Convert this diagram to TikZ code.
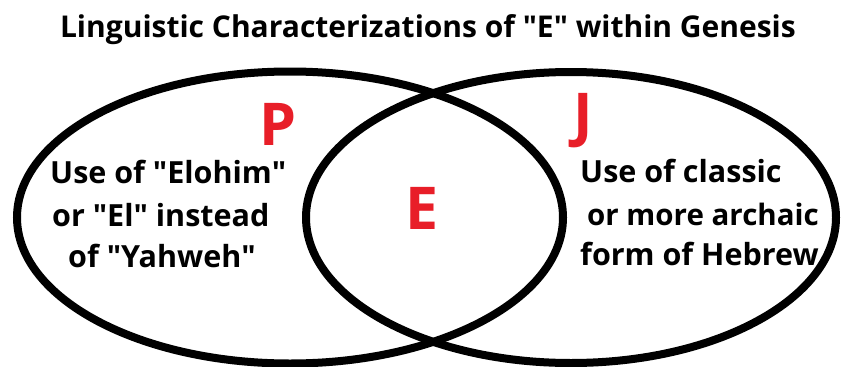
\documentclass[tikz,border=0pt]{standalone}
\usepackage{fontspec}
\setmainfont{Open Sans}
\usetikzlibrary{positioning}
\definecolor{srcred}{RGB}{232,30,40}
\newcommand{\dq}{\textquotedbl}
\tikzset{
  ring/.style={line width=8pt, black},
  srcletter/.style={text=srcred, inner sep=0pt, font=\fontsize{59}{59}\selectfont\bfseries},
  note/.style={anchor=base west, inner sep=0pt, font=\fontsize{30.5}{30.5}\selectfont\bfseries},
}

\begin{document}
\begin{tikzpicture}[x=1pt, y=-1pt]
    \useasboundingbox[fill=white] (0,0) rectangle (844,367);

    % title
    \node[inner sep=0pt, font=\fontsize{30}{30}\selectfont\bfseries] (title) at (428,30)
        {Linguistic Characterizations of \dq E\dq{} within Genesis};

    % the two sources
    \draw[ring] (290,217.5) ellipse [x radius=273, y radius=146];
    \draw[ring] (571,217.5) ellipse [x radius=265, y radius=145.5];

    % letters
    \node[srcletter] (P) at (278,124) {P};
    \node[srcletter] (J) at (583,121) {J};
    \node[srcletter] (E) at (422,208) {E};

    % left text
    \node[note] (p1) at (50,183) {Use of \dq Elohim\dq};
    \node[note] (p2) at (52,226) {or \dq El\dq{} instead};
    \node[note] (p3) at (68,267) {of \dq Yahweh\dq};

    % right text
    \node[note] (j1) at (580,182) {Use of classic};
    \node[note, font=\fontsize{29.5}{29.5}\selectfont\bfseries] (j2) at (587,225) {or more archaic};
    \node[note] (j3) at (580,265) {form of Hebrew};
\end{tikzpicture}
\end{document}
